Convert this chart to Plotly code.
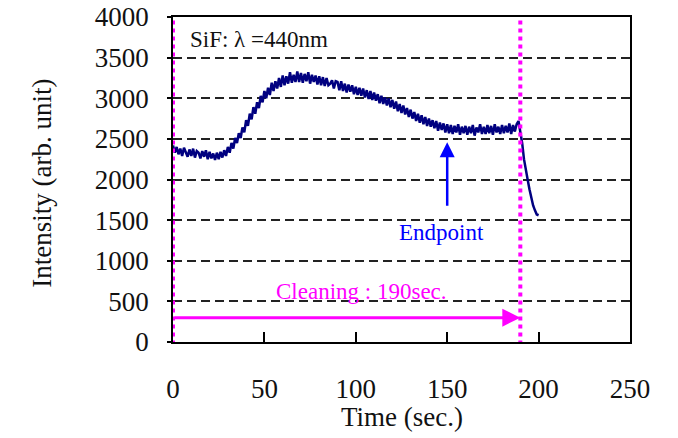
import plotly.graph_objects as go

# Time (sec.) sampled every second
time_s = list(range(0, 201))

intensity = [
    2420, 2330, 2400, 2310, 2380, 2290, 2390, 2320, 2280, 2370,
    2290, 2380, 2270, 2350, 2330, 2260, 2350, 2280, 2360, 2250,
    2340, 2260, 2320, 2240, 2330, 2250, 2340, 2270, 2360, 2290,
    2400, 2330, 2450, 2380, 2510, 2450, 2570, 2510, 2640, 2580,
    2730, 2660, 2810, 2740, 2890, 2810, 2950, 2880, 3030, 2950,
    3090, 3000, 3130, 3040, 3190, 3090, 3210, 3120, 3250, 3140,
    3280, 3160, 3270, 3180, 3320, 3190, 3290, 3200, 3330, 3200,
    3310, 3190, 3300, 3210, 3320, 3180, 3290, 3200, 3280, 3170,
    3270, 3160, 3260, 3150, 3250, 3160, 3180, 3220, 3120, 3210,
    3200, 3100, 3210, 3090, 3180, 3070, 3170, 3080, 3160, 3050,
    3140, 3040, 3130, 3030, 3120, 3010, 3100, 2990, 3090, 2980,
    3070, 2970, 3050, 2940, 3030, 2930, 3010, 2910, 3000, 2890,
    2980, 2870, 2960, 2840, 2930, 2820, 2910, 2800, 2880, 2770,
    2860, 2750, 2830, 2720, 2810, 2700, 2790, 2680, 2770, 2660,
    2750, 2650, 2730, 2630, 2720, 2600, 2700, 2610, 2690, 2580,
    2680, 2570, 2670, 2560, 2660, 2580, 2680, 2550, 2650, 2570,
    2660, 2550, 2650, 2570, 2670, 2540, 2640, 2580, 2680, 2560,
    2650, 2560, 2670, 2570, 2660, 2550, 2680, 2580, 2650, 2560,
    2670, 2570, 2660, 2580, 2690, 2560, 2670, 2590, 2680, 2720,
    2600, 2450, 2250, 2100, 2000, 1880, 1760, 1680, 1620, 1570,
    1560,
]

x_ticks = [0, 50, 100, 150, 200, 250]
y_ticks = [0, 500, 1000, 1500, 2000, 2500, 3000, 3500, 4000]

cleaning_end = 190
endpoint_time = 150

FONT = "Liberation Serif"
MAGENTA = "#FF00FF"
INK = "#111111"

fig = go.Figure()
fig.add_trace(go.Scatter(
    x=time_s, y=intensity, mode="lines",
    line=dict(color="#000080", width=2.5),
    showlegend=False, hoverinfo="skip",
))

# vertical dotted magenta markers
for xv in [0, cleaning_end]:
    fig.add_shape(type="line", xref="x", yref="y",
                  x0=xv, x1=xv, y0=-30, y1=4000,
                  line=dict(color=MAGENTA, width=4, dash="dot"), layer="above")

annotations = [
    dict(x=8, y=3720, xref="x", yref="y", text="SiF: λ =440nm",
         showarrow=False, xanchor="left", yanchor="middle",
         font=dict(family=FONT, size=23, color=INK)),
    dict(x=103, y=620, xref="x", yref="y", text="Cleaning : 190sec.",
         showarrow=False, xanchor="center", yanchor="middle",
         font=dict(family=FONT, size=23, color=MAGENTA)),
    dict(x=cleaning_end, y=300, ax=0, ay=300, xref="x", yref="y",
         axref="x", ayref="y", text="", showarrow=True,
         arrowhead=2, arrowsize=1.2, arrowwidth=3, arrowcolor=MAGENTA),
    dict(x=endpoint_time, y=2460, ax=endpoint_time, ay=1660, xref="x", yref="y",
         axref="x", ayref="y", text="", showarrow=True,
         arrowhead=2, arrowsize=1.2, arrowwidth=2.5, arrowcolor="#0000FF"),
    dict(x=147, y=1350, xref="x", yref="y", text="Endpoint",
         showarrow=False, xanchor="center", yanchor="middle",
         font=dict(family=FONT, size=23, color="#0000FF")),
    dict(x=0.5, y=-0.2308, xref="paper", yref="paper", text="Time (sec.)",
         showarrow=False, xanchor="center", yanchor="middle",
         font=dict(family=FONT, size=27, color=INK)),
    dict(x=-0.2867, y=0.49, xref="paper", yref="paper",
         text="Intensity (arb. unit)", textangle=-90,
         showarrow=False, xanchor="center", yanchor="middle",
         font=dict(family=FONT, size=27, color=INK)),
]

fig.update_layout(
    width=678, height=438,
    # page body adds an 8px offset; margins compensate so the plot box sits at 173..630 x 17..342
    margin=dict(l=165, r=56, t=9, b=104),
    paper_bgcolor="white", plot_bgcolor="white",
    font=dict(family=FONT, size=27, color=INK),
    annotations=annotations,
    xaxis=dict(
        range=[0, 250], tickvals=x_ticks, ticktext=[str(v) for v in x_ticks],
        automargin=False, ticklabeloverflow="allow",
        showgrid=False, zeroline=False,
        showline=True, linecolor="black", linewidth=1.5, mirror=True,
        ticks="inside", ticklen=10, tickcolor="black", tickwidth=1.5,
        ticklabelstandoff=22,
        tickfont=dict(family=FONT, size=27, color=INK),
    ),
    yaxis=dict(
        range=[0, 4000], tickvals=y_ticks, ticktext=[str(v) for v in y_ticks],
        automargin=False, ticklabeloverflow="allow",
        showgrid=True, gridcolor="#222222", gridwidth=1.5, griddash="9px,5px",
        zeroline=False,
        showline=True, linecolor="black", linewidth=1.5, mirror=True,
        ticks="outside", ticklen=4, tickcolor="black", tickwidth=1.5,
        ticklabelstandoff=13,
        tickfont=dict(family=FONT, size=27, color=INK),
    ),
)

fig.write_html("out.html")
